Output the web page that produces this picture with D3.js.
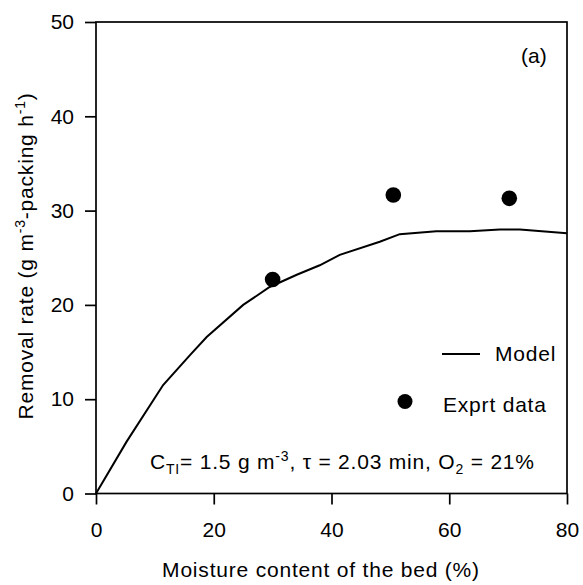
<!DOCTYPE html>
<html>
<head>
<meta charset="utf-8">
<script src="https://cdn.jsdelivr.net/npm/d3@7"></script>
<style>
  html, body { margin: 0; padding: 0; background: #fff; }
  svg { display: block; font-family: "Liberation Sans", Arial, sans-serif; }
</style>
</head>
<body>
<svg id="chart" width="583" height="585"></svg>
<script>
// ---- data ----
const modelX = [0, 5.2, 11.4, 16, 18.8, 25, 29.5, 34.1, 38, 41.4, 48.2, 51.6, 57.8, 63.5, 68.6, 72, 80];
const modelY = [0, 5.5, 11.5, 14.7, 16.6, 20.0, 21.9, 23.2, 24.2, 25.3, 26.7, 27.5, 27.8, 27.8, 28.0, 28.0, 27.6];
const exprtX = [30, 50.5, 70.2];
const exprtY = [22.7, 31.65, 31.3];
const xTicks = [0, 20, 40, 60, 80];
const yTicks = [0, 10, 20, 30, 40, 50];
const xLabel = "Moisture content of the bed (%)";
const legendLabels = ["Model", "Exprt data"];
const panelLabel = "(a)";

// ---- layout ----
const svg = d3.select("#chart");
const m = { left: 96, top: 22, right: 16, bottom: 91.5 };
const W = 583, H = 585;
const x = d3.scaleLinear().domain([0, 80]).range([m.left, W - m.right]);
const y = d3.scaleLinear().domain([0, 50]).range([H - m.bottom, m.top]);
const fontSize = 21;
const ls = "0.8px";

// frame
svg.append("rect")
  .attr("x", x(0)).attr("y", y(50))
  .attr("width", x(80) - x(0)).attr("height", y(0) - y(50))
  .attr("fill", "none").attr("stroke", "#000").attr("stroke-width", 1.7);

// axes
const xAxis = d3.axisBottom(x).tickValues(xTicks).tickSize(11).tickPadding(18).tickFormat(d3.format("d"));
const yAxis = d3.axisLeft(y).tickValues(yTicks).tickSize(11).tickPadding(11).tickFormat(d3.format("d"));

const gx = svg.append("g").attr("transform", `translate(0,${y(0)})`).call(xAxis);
const gy = svg.append("g").attr("transform", `translate(${x(0)},0)`).call(yAxis);
[gx, gy].forEach(g => {
  g.select(".domain").remove();
  g.selectAll(".tick line").attr("stroke", "#000").attr("stroke-width", 1.7);
  g.selectAll(".tick text").attr("fill", "#000").attr("font-size", fontSize)
    .attr("font-family", "'Liberation Sans', Arial, sans-serif");
});

// axis titles
svg.append("text")
  .attr("x", 321).attr("y", 577)
  .attr("text-anchor", "middle").attr("font-size", fontSize).attr("letter-spacing", ls)
  .text(xLabel);

const yl = svg.append("text")
  .attr("transform", `translate(33,256) rotate(-90)`)
  .attr("text-anchor", "middle").attr("font-size", fontSize).attr("letter-spacing", ls);
yl.append("tspan").text("Removal rate (g m");
yl.append("tspan").attr("dy", -8).attr("font-size", 14).text("-3");
yl.append("tspan").attr("dy", 8).text("-packing h");
yl.append("tspan").attr("dy", -8).attr("font-size", 14).text("-1");
yl.append("tspan").attr("dy", 8).text(")");

// model line
const line = d3.line().x(d => x(d[0])).y(d => y(d[1]));
svg.append("path")
  .datum(d3.zip(modelX, modelY))
  .attr("d", line)
  .attr("fill", "none").attr("stroke", "#000").attr("stroke-width", 2);

// experimental points
svg.selectAll("circle.pt")
  .data(d3.zip(exprtX, exprtY))
  .join("circle").attr("class", "pt")
  .attr("cx", d => x(d[0])).attr("cy", d => y(d[1]))
  .attr("r", 7.8).attr("fill", "#000");

// legend
svg.append("line")
  .attr("x1", 442).attr("x2", 480).attr("y1", 354).attr("y2", 354)
  .attr("stroke", "#000").attr("stroke-width", 1.8);
svg.append("text").attr("x", 495).attr("y", 361).attr("font-size", fontSize).attr("letter-spacing", ls).text(legendLabels[0]);
svg.append("circle").attr("cx", 405).attr("cy", 401.5).attr("r", 7.5).attr("fill", "#000");
svg.append("text").attr("x", 443).attr("y", 412).attr("font-size", fontSize).attr("letter-spacing", ls).text(legendLabels[1]);

// panel label
svg.append("text").attr("x", 521).attr("y", 63).attr("font-size", fontSize).text(panelLabel);

// annotation
const an = svg.append("text").attr("x", 150).attr("y", 469).attr("font-size", fontSize).attr("letter-spacing", ls);
an.append("tspan").text("C");
an.append("tspan").attr("dy", 5).attr("font-size", 14).text("TI");
an.append("tspan").attr("dy", -5).text("= 1.5 g m");
an.append("tspan").attr("dy", -8).attr("font-size", 14).text("-3");
an.append("tspan").attr("dy", 8).text(", \u03c4 = 2.03 min, O");
an.append("tspan").attr("dy", 5).attr("font-size", 14).text("2");
an.append("tspan").attr("dy", -5).text(" = 21%");
</script>
</body>
</html>
